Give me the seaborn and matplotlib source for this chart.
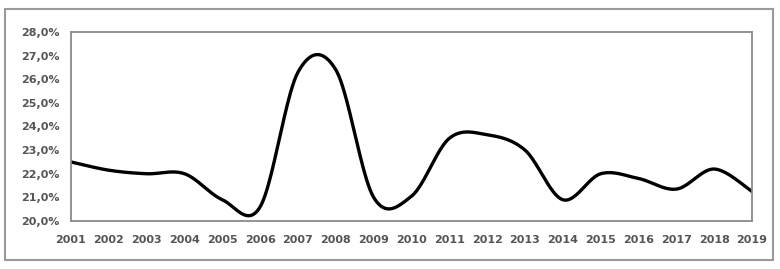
import numpy as np
import pandas as pd
import matplotlib
matplotlib.use("Agg")
import matplotlib.pyplot as plt
import seaborn as sns
from matplotlib.patches import Rectangle

years = [2001, 2002, 2003, 2004, 2005, 2006, 2007, 2008, 2009, 2010,
         2011, 2012, 2013, 2014, 2015, 2016, 2017, 2018, 2019]
values = [22.5, 22.15, 22.0, 22.0, 20.9, 20.6, 26.3, 26.4, 21.0, 21.05,
          23.5, 23.65, 23.0, 20.9, 22.0, 21.8, 21.35, 22.2, 21.25]
y_ticks = [20, 21, 22, 23, 24, 25, 26, 27, 28]
y_labels = ["20,0%", "21,0%", "22,0%", "23,0%", "24,0%", "25,0%", "26,0%", "27,0%", "28,0%"]


def smooth_line(xs, ys, n=40):
    """Excel-like smoothed line (Catmull-Rom Bezier through the points)."""
    xs = np.asarray(xs, float)
    ys = np.asarray(ys, float)
    px = np.concatenate([[xs[0]], xs, [xs[-1]]])
    py = np.concatenate([[ys[0]], ys, [ys[-1]]])
    out_x, out_y = [], []
    t = np.linspace(0, 1, n, endpoint=False)
    for i in range(1, len(px) - 2):
        p0x, p1x, p2x, p3x = px[i - 1], px[i], px[i + 1], px[i + 2]
        p0y, p1y, p2y, p3y = py[i - 1], py[i], py[i + 1], py[i + 2]
        c1x, c1y = p1x + (p2x - p0x) / 6, p1y + (p2y - p0y) / 6
        c2x, c2y = p2x - (p3x - p1x) / 6, p2y - (p3y - p1y) / 6
        b0, b1, b2, b3 = (1 - t) ** 3, 3 * t * (1 - t) ** 2, 3 * t ** 2 * (1 - t), t ** 3
        out_x.extend(b0 * p1x + b1 * c1x + b2 * c2x + b3 * p2x)
        out_y.extend(b0 * p1y + b1 * c1y + b2 * c2y + b3 * p2y)
    out_x.append(xs[-1])
    out_y.append(ys[-1])
    return np.array(out_x), np.array(out_y)


sx, sy = smooth_line(years, values)
df = pd.DataFrame({"year": sx, "value": sy})

sns.set_theme(style="white")
plt.rcParams["font.family"] = ["DejaVu Sans"]

fig = plt.figure(figsize=(7.8, 2.69), dpi=100)
ax = fig.add_axes([71 / 780, 48 / 269, 681 / 780, 189 / 269])

sns.lineplot(data=df, x="year", y="value", sort=False, estimator=None,
             color="black", linewidth=2.4, ax=ax)

ax.set_xlim(2001, 2019)
ax.set_ylim(20, 28)
ax.set_xticks(years)
ax.set_xticklabels([str(y) for y in years])
ax.set_yticks(y_ticks)
ax.set_yticklabels(y_labels)
ax.set_xlabel("")
ax.set_ylabel("")

for side in ["left", "bottom", "top", "right"]:
    ax.spines[side].set_visible(True)
    ax.spines[side].set_color("#8a8a8a")
    ax.spines[side].set_linewidth(1.3)

ax.tick_params(axis="both", which="major", direction="out", length=4, width=1,
               color="#777777", labelsize=8, labelcolor="#555555", pad=4)
ax.tick_params(axis="x", pad=6)
for lab in ax.get_xticklabels() + ax.get_yticklabels():
    lab.set_fontweight("bold")

fig.patches.append(Rectangle((5 / 780, 9 / 269), 768 / 780, 251 / 269,
                             transform=fig.transFigure, fill=False,
                             edgecolor="#9a9a9a", linewidth=1.5))

fig.savefig("out.png", dpi=100, facecolor="white")
